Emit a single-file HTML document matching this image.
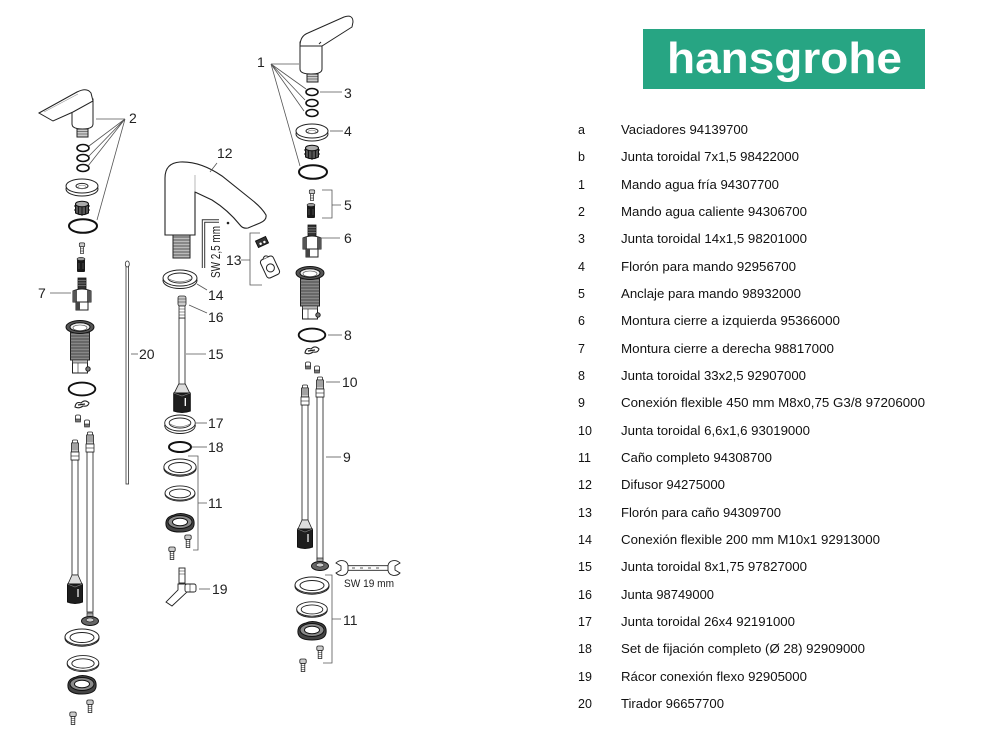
<!DOCTYPE html>
<html><head><meta charset="utf-8"><style>
html,body{margin:0;padding:0;background:#fff;}
svg{display:block;}
text{font-family:"Liberation Sans",Arial,sans-serif;}
.t{font-size:12.5px;fill:#111;white-space:pre;}
.l{font-size:14px;fill:#222;}
.ld{stroke:#555;stroke-width:.8;fill:none;}
</style></head><body>
<svg width="985" height="743" viewBox="0 0 985 743" xmlns="http://www.w3.org/2000/svg">
<defs>
<g id="ors"><ellipse rx="6" ry="3.5" fill="none" stroke="#111" stroke-width="1.6"/></g>
<g id="orl"><ellipse rx="14" ry="6.8" fill="none" stroke="#111" stroke-width="2"/></g>
<g id="ros"><ellipse cy="3" rx="16" ry="7" fill="#fff" stroke="#222"/><ellipse rx="16" ry="7" fill="#fff" stroke="#222"/><ellipse rx="6" ry="2.6" fill="#fff" stroke="#222"/><ellipse cy="0.8" rx="4" ry="1.6" fill="none" stroke="#888" stroke-width=".6"/></g>
<g id="gear"><path d="M-6.5,-4 L-6.5,5 Q0,8.5 6.5,5 L6.5,-4 Z" fill="#555" stroke="#111"/><ellipse cy="-4" rx="6.5" ry="2.8" fill="#aaa" stroke="#111"/><path d="M-3.5,-1.5 v8 M0,-1 v9 M3.5,-1.5 v8" stroke="#111" stroke-width=".9"/><path d="M-8,-2 h2 M6,-2 h2 M-8,2 h2 M6,2 h2" stroke="#111"/></g>
<g id="scr"><rect x="-3.2" y="-6" width="6.4" height="4.5" rx="1.5" fill="#ccc" stroke="#222" stroke-width=".8"/><rect x="-1.8" y="-1.5" width="3.6" height="8" fill="#fff" stroke="#222" stroke-width=".8"/><path d="M-1.8,0.5h3.6M-1.8,2.5h3.6M-1.8,4.5h3.6" stroke="#222" stroke-width=".5"/></g>
<g id="anc"><rect x="-4" y="-6" width="8" height="13" rx="1" fill="#1a1a1a"/><ellipse cy="-6" rx="4" ry="1.6" fill="#999" stroke="#111" stroke-width=".6"/><path d="M-2,-2 v6 M2,-2 v6" stroke="#666" stroke-width=".6"/></g>
<g id="cart">
<rect x="-4" y="0" width="8" height="11" fill="#333" stroke="#111" stroke-width=".8"/>
<path d="M-4,2.5h8M-4,5h8M-4,7.5h8" stroke="#aaa" stroke-width=".5"/>
<path d="M-9,13 Q0,9 9,13 L9,24 L-9,24 Z" fill="#fff" stroke="#222"/>
<path d="M-9,13 L-9,24 L-5,24 L-5,12 Z" fill="#555"/>
<path d="M5,12 L9,13 L9,24 L5,24 Z" fill="#555"/>
<rect x="-6" y="24" width="12" height="8" fill="#fff" stroke="#222"/>
<rect x="-6" y="24" width="4" height="8" fill="#444"/>
</g>
<g id="slv">
<rect x="-9.5" y="3" width="19" height="30" fill="#888" stroke="#222"/>
<path d="M-9.5,6h19M-9.5,9h19M-9.5,12h19M-9.5,15h19M-9.5,18h19M-9.5,21h19M-9.5,24h19M-9.5,27h19M-9.5,30h19" stroke="#333" stroke-width=".7"/>
<ellipse rx="14" ry="6.5" fill="#555" stroke="#111"/>
<ellipse rx="10" ry="4.2" fill="#eee" stroke="#111"/>
<ellipse cy="0.8" rx="7" ry="2.8" fill="#fff" stroke="#444" stroke-width=".6"/>
<rect x="-7.5" y="33" width="15" height="13" fill="#fff" stroke="#222"/>
<rect x="-7.5" y="33" width="15" height="3" fill="#bbb" stroke="#222" stroke-width=".6"/>
<path d="M-2,36 v10" stroke="#222" stroke-width=".6"/>
<circle cx="8" cy="42" r="2.2" fill="#777" stroke="#222"/>
</g>
<g id="clip"><path d="M-7,3 Q-6,-3 -1,-1 Q3,-5 7,-1 Q6,3 1,2 Q-3,5 -7,3 Z" fill="#fff" stroke="#222" stroke-width="1.1"/><path d="M-4,1 L3,0" stroke="#222" stroke-width="1.2"/></g>
<g id="tn"><rect x="-2.5" y="-3" width="5" height="6" rx="1.5" fill="#fff" stroke="#222" stroke-width=".8"/><rect x="-2.5" y="1" width="5" height="3" fill="#777" stroke="#222" stroke-width=".6"/></g>
<g id="hfit"><rect x="-2.5" y="0" width="5" height="3" rx="1" fill="#fff" stroke="#222" stroke-width=".8"/><rect x="-3.5" y="3" width="7" height="9" fill="#ccc" stroke="#222" stroke-width=".8"/><path d="M-3.5,5h7M-3.5,7h7M-3.5,9h7" stroke="#222" stroke-width=".6"/><rect x="-4" y="12" width="8" height="8" fill="#fff" stroke="#222" stroke-width=".8"/><path d="M-4,16h8" stroke="#222" stroke-width=".6"/></g>
<g id="hbot"><path d="M-3,0 L3,0 L7,9 L-7,9 Z" fill="#ddd" stroke="#222" stroke-width=".8"/><path d="M-7.5,9 L7.5,9 L7.5,27 Q0,30 -7.5,27 Z" fill="#1e1e1e" stroke="#111"/><path d="M3,14 v8" stroke="#fff" stroke-width="1.2"/><path d="M-7.5,9 L0,12 L7.5,9" stroke="#888" stroke-width=".6" fill="none"/></g>
<g id="hfl"><rect x="-3" y="-8" width="6" height="6" fill="#aaa" stroke="#222" stroke-width=".7"/><ellipse rx="8.5" ry="4.5" fill="#666" stroke="#111"/><ellipse cy="-1" rx="4" ry="2" fill="#ccc" stroke="#111" stroke-width=".6"/></g>
<g id="wt"><ellipse cy="1.2" rx="17" ry="8" fill="#fff" stroke="#222"/><ellipse rx="17" ry="8" fill="#fff" stroke="#222"/><ellipse cy="0.5" rx="12" ry="5" fill="#fff" stroke="#222"/></g>
<g id="wk"><ellipse cy="2.5" rx="17" ry="8" fill="#fff" stroke="#222"/><ellipse rx="17" ry="8" fill="#fff" stroke="#222"/><ellipse rx="12" ry="5" fill="#fff" stroke="#222"/><path d="M-12,0.5 Q0,7 12,0.5" fill="none" stroke="#666" stroke-width=".6"/></g>
<g id="plate"><path d="M-14,2 Q-15,-6 -6,-8 Q0,-11 8,-8 Q15,-6 14,2 Q13,9 0,9 Q-13,9 -14,2 Z" fill="#444" stroke="#111"/><ellipse cy="-1" rx="12" ry="6.5" fill="#8a8a8a" stroke="#111"/><ellipse cy="-1" rx="7.5" ry="3.8" fill="#fff" stroke="#111"/></g>
</defs>

<rect width="985" height="743" fill="#fff"/>

<!-- LOGO -->
<rect x="643" y="29" width="282" height="60" fill="#27a583"/>
<text x="667" y="73" font-size="44" font-weight="bold" fill="#fff" textLength="235" lengthAdjust="spacingAndGlyphs">hansgrohe</text>

<!-- PARTS LIST -->
<g class="t">
<text x="578" y="134">a</text><text x="621" y="134" textLength="127" lengthAdjust="spacingAndGlyphs">Vaciadores  94139700</text>
<text x="578" y="161">b</text><text x="621" y="161" textLength="178" lengthAdjust="spacingAndGlyphs">Junta toroidal 7x1,5  98422000</text>
<text x="578" y="189">1</text><text x="621" y="189" textLength="158" lengthAdjust="spacingAndGlyphs">Mando agua fría  94307700</text>
<text x="578" y="216">2</text><text x="621" y="216" textLength="186" lengthAdjust="spacingAndGlyphs">Mando agua caliente  94306700</text>
<text x="578" y="243">3</text><text x="621" y="243" textLength="186" lengthAdjust="spacingAndGlyphs">Junta toroidal 14x1,5  98201000</text>
<text x="578" y="271">4</text><text x="621" y="271" textLength="175" lengthAdjust="spacingAndGlyphs">Florón para mando  92956700</text>
<text x="578" y="298">5</text><text x="621" y="298" textLength="180" lengthAdjust="spacingAndGlyphs">Anclaje para mando  98932000</text>
<text x="578" y="325">6</text><text x="621" y="325" textLength="219" lengthAdjust="spacingAndGlyphs">Montura cierre a izquierda  95366000</text>
<text x="578" y="353">7</text><text x="621" y="353" textLength="213" lengthAdjust="spacingAndGlyphs">Montura cierre a derecha  98817000</text>
<text x="578" y="380">8</text><text x="621" y="380" textLength="185" lengthAdjust="spacingAndGlyphs">Junta toroidal 33x2,5  92907000</text>
<text x="578" y="407">9</text><text x="621" y="407" textLength="304" lengthAdjust="spacingAndGlyphs">Conexión flexible 450 mm M8x0,75 G3/8  97206000</text>
<text x="578" y="435">10</text><text x="621" y="435" textLength="189" lengthAdjust="spacingAndGlyphs">Junta toroidal 6,6x1,6  93019000</text>
<text x="578" y="462">11</text><text x="621" y="462" textLength="151" lengthAdjust="spacingAndGlyphs">Caño completo  94308700</text>
<text x="578" y="489">12</text><text x="621" y="489" textLength="104" lengthAdjust="spacingAndGlyphs">Difusor  94275000</text>
<text x="578" y="517">13</text><text x="621" y="517" textLength="160" lengthAdjust="spacingAndGlyphs">Florón para caño  94309700</text>
<text x="578" y="544">14</text><text x="621" y="544" textLength="259" lengthAdjust="spacingAndGlyphs">Conexión flexible 200 mm M10x1  92913000</text>
<text x="578" y="571">15</text><text x="621" y="571" textLength="186" lengthAdjust="spacingAndGlyphs">Junta toroidal 8x1,75  97827000</text>
<text x="578" y="599">16</text><text x="621" y="599" textLength="93" lengthAdjust="spacingAndGlyphs">Junta  98749000</text>
<text x="578" y="626">17</text><text x="621" y="626" textLength="174" lengthAdjust="spacingAndGlyphs">Junta toroidal 26x4  92191000</text>
<text x="578" y="653">18</text><text x="621" y="653" textLength="244" lengthAdjust="spacingAndGlyphs">Set de fijación completo (Ø 28)  92909000</text>
<text x="578" y="681">19</text><text x="621" y="681" textLength="186" lengthAdjust="spacingAndGlyphs">Rácor conexión flexo  92905000</text>
<text x="578" y="708">20</text><text x="621" y="708" textLength="103" lengthAdjust="spacingAndGlyphs">Tirador  96657700</text>
</g>

<!-- ================= LEFT ASSEMBLY ================= -->
<path d="M72,100 L72,124 Q72,129 82.5,129 Q93,129 93,124 L93,99 Z" fill="#fff" stroke="#222"/>
<path d="M39,113 L77,92 Q87,87 91,93 L93,101 L73,112 L53,121 Z" fill="#fff" stroke="#222"/>
<path d="M44,112 L78,94" stroke="#999" stroke-width=".6"/>
<rect x="77" y="129" width="11" height="8" fill="#ccc" stroke="#222"/>
<path d="M77,131.5h11M77,134h11" stroke="#222" stroke-width=".6"/>
<use href="#ors" x="83" y="148"/>
<use href="#ors" x="83" y="158"/>
<use href="#ors" x="83" y="168"/>
<use href="#ros" x="82" y="186"/>
<use href="#gear" x="82" y="208"/>
<use href="#orl" x="83" y="226"/>
<use href="#scr" transform="translate(82,248) scale(.85)"/>
<use href="#anc" x="81" y="265"/>
<use href="#cart" x="82" y="278"/>
<use href="#slv" x="80" y="327"/>
<use href="#orl" transform="translate(82,389) scale(.95)"/>
<use href="#clip" x="82" y="404"/>
<use href="#tn" x="78" y="418"/>
<use href="#tn" x="87" y="423"/>
<rect x="72" y="460" width="6" height="115" fill="#fff" stroke="#333" stroke-width=".9"/>
<rect x="87" y="452" width="6" height="160" fill="#fff" stroke="#333" stroke-width=".9"/>
<use href="#hfit" x="75" y="440"/>
<use href="#hfit" x="90" y="432"/>
<use href="#hbot" x="75" y="575"/>
<use href="#hfl" x="90" y="621"/>
<use href="#wt" x="82" y="637"/>
<use href="#wt" transform="translate(83,663) scale(.93)"/>
<use href="#plate" x="82" y="685"/>
<use href="#scr" x="90" y="706"/>
<use href="#scr" x="73" y="718"/>
<!-- labels left -->
<g class="ld">
<path d="M125,119 L96,119 M125,119 L89,146 M125,119 L89,156 M125,119 L88,166 M125,119 L97,220"/>
<path d="M50,293 L71,293"/>
<path d="M131,354 L138,354"/>
</g>
<text class="l" x="129" y="123">2</text>
<text class="l" x="38" y="298">7</text>
<text class="l" x="139" y="359">20</text>
<!-- tirador -->
<rect x="126" y="266" width="2.6" height="218" fill="#fff" stroke="#333" stroke-width=".8"/>
<ellipse cx="127.3" cy="264" rx="2" ry="3" fill="#fff" stroke="#333" stroke-width=".8"/>

<!-- ================= MIDDLE ASSEMBLY ================= -->
<rect x="173" y="234" width="17" height="24" fill="#bbb" stroke="#222"/>
<path d="M173,237h17M173,240h17M173,243h17M173,246h17M173,249h17M173,252h17M173,255h17" stroke="#333" stroke-width=".8"/>
<path d="M165,235 L165,178 Q165,163 180,162 Q200,161 222,176 L252,200 Q262,208 266,215 Q267,220 260,223 L248,228 Q243,229 240,225 Q228,210 212,200 L195,192 L195,235 Z" fill="#fff" stroke="#222" stroke-width="1.1"/>
<path d="M195,192 L195,175" stroke="#888" stroke-width=".6"/>
<!-- hex key -->
<path d="M203.5,268 L203.5,221 L219,221" fill="none" stroke="#333" stroke-width="3.4"/>
<path d="M203.5,268 L203.5,221 L219,221" fill="none" stroke="#fff" stroke-width="1.4"/>
<text transform="translate(220,252) rotate(-90)" text-anchor="middle" font-size="12.5" fill="#222" textLength="52" lengthAdjust="spacingAndGlyphs">SW 2,5 mm</text>
<circle cx="228" cy="223" r="1.3" fill="#222"/>
<!-- 13 -->
<path class="ld" d="M260,233 L250,233 L250,285 L262,285 M241,260 L250,260"/>
<text class="l" x="226" y="265">13</text>
<g transform="translate(262,242) rotate(-25)"><rect x="-5.5" y="-3.5" width="11" height="7" fill="#333" stroke="#111"/><circle cx="-2" cy="1" r="1.2" fill="#fff"/><circle cx="2.2" cy="1" r="1.2" fill="#fff"/></g>
<g transform="translate(270,267) rotate(-25)"><rect x="-7" y="-10" width="14" height="20" rx="3" fill="#fff" stroke="#222"/><circle cx="0" cy="1" r="4" fill="none" stroke="#222"/><path d="M-3,-10 Q0,-14 3,-10" fill="#fff" stroke="#222"/></g>
<!-- 14 washer -->
<use href="#wk" x="180" y="278"/>
<!-- 16 fitting & 15 hose -->
<rect x="179" y="318" width="6" height="68" fill="#fff" stroke="#333" stroke-width=".9"/>
<rect x="178" y="296" width="8" height="10" rx="2" fill="#ccc" stroke="#222" stroke-width=".8"/>
<path d="M178,299h8M178,302h8" stroke="#222" stroke-width=".6"/>
<rect x="179" y="306" width="6" height="12" fill="#fff" stroke="#222" stroke-width=".8"/>
<path d="M179,309h6M179,312h6M179,315h6" stroke="#222" stroke-width=".5"/>
<use href="#hbot" transform="translate(182,384) scale(1.1,1)"/>
<use href="#wk" transform="translate(180,423) scale(.9,1)"/>
<ellipse cx="180" cy="447" rx="11" ry="5" fill="none" stroke="#111" stroke-width="2"/>
<use href="#wt" transform="translate(180,467) scale(.95,1)"/>
<use href="#wt" transform="translate(180,493) scale(.88)"/>
<use href="#plate" x="180" y="523"/>
<use href="#scr" x="188" y="541"/>
<use href="#scr" x="172" y="553"/>
<!-- 19 racor -->
<rect x="179" y="568" width="6" height="15" fill="#fff" stroke="#222" stroke-width=".9"/>
<path d="M179,571h6M179,574h6" stroke="#222" stroke-width=".5"/>
<path d="M178,584 L186,584 L187,592 L172,606 L166,602 L178,590 Z" fill="#fff" stroke="#222" stroke-width=".9"/>
<rect x="185" y="584" width="11" height="8" rx="2" fill="#fff" stroke="#222" stroke-width=".9"/>
<path d="M190,584 v8" stroke="#222" stroke-width=".6"/>
<!-- middle labels -->
<g class="ld">
<path d="M217,163 L210,172"/>
<path d="M197,284 L207,290"/>
<path d="M189,305 L207,313"/>
<path d="M186,354 L206,354"/>
<path d="M196,423 L207,423"/>
<path d="M192,447 L207,447"/>
<path d="M188,456 L198,456 L198,550 L193,550 M198,503 L207,503"/>
<path d="M199,589 L210,589"/>
</g>
<text class="l" x="217" y="158">12</text>
<text class="l" x="208" y="300">14</text>
<text class="l" x="208" y="322">16</text>
<text class="l" x="208" y="359">15</text>
<text class="l" x="208" y="428">17</text>
<text class="l" x="208" y="452">18</text>
<text class="l" x="208" y="508">11</text>
<text class="l" x="212" y="594">19</text>

<!-- ================= RIGHT ASSEMBLY ================= -->
<path d="M300,42 L300,69 Q300,74 311,74 Q322,74 322,69 L322,44 Z" fill="#fff" stroke="#222"/>
<path d="M300,46 Q300,36 308,33 L344,17 Q353,14 353,22 L352,27 L322,46 Z" fill="#fff" stroke="#222"/>
<path d="M319,44 l2,-2" stroke="#222"/>
<rect x="307" y="74" width="11" height="8" fill="#ccc" stroke="#222"/>
<path d="M307,76.5h11M307,79h11" stroke="#222" stroke-width=".6"/>
<use href="#ors" x="312" y="92"/>
<use href="#ors" x="312" y="103"/>
<use href="#ors" x="312" y="113"/>
<use href="#ros" x="312" y="131"/>
<use href="#gear" x="312" y="152"/>
<use href="#orl" x="313" y="172"/>
<use href="#scr" transform="translate(312,195) scale(.85)"/>
<use href="#anc" x="311" y="211"/>
<use href="#cart" x="312" y="225"/>
<use href="#slv" x="310" y="273"/>
<use href="#orl" transform="translate(312,335) scale(.95)"/>
<use href="#clip" x="312" y="350"/>
<use href="#tn" x="308" y="365"/>
<use href="#tn" x="317" y="369"/>
<rect x="302" y="405" width="6" height="115" fill="#fff" stroke="#333" stroke-width=".9"/>
<rect x="317" y="397" width="6" height="163" fill="#fff" stroke="#333" stroke-width=".9"/>
<use href="#hfit" x="305" y="385"/>
<use href="#hfit" x="320" y="377"/>
<use href="#hbot" x="305" y="520"/>
<use href="#hfl" x="320" y="566"/>
<use href="#wt" x="312" y="585"/>
<use href="#wt" transform="translate(312,609) scale(.9)"/>
<use href="#plate" x="312" y="631"/>
<use href="#scr" x="320" y="652"/>
<use href="#scr" x="303" y="665"/>
<!-- wrench -->
<g transform="translate(368,568)" stroke="#222" fill="#fff" stroke-width=".9">
<rect x="-22" y="-2.3" width="44" height="4.6" rx="1"/>
<path d="M-16,0 h3 M-8,0 h3 M0,0 h3 M8,0 h3" stroke-width=".8"/>
<path d="M-20,-2.5 C-21,-8 -28,-9 -32,-5 L-27,-2 L-27,2 L-32,5 C-28,9 -21,8 -20,2.5 Z"/>
<path d="M20,-2.5 C21,-8 28,-9 32,-5 L27,-2 L27,2 L32,5 C28,9 21,8 20,2.5 Z"/>
</g>
<text x="344" y="587" font-size="11" fill="#222" textLength="50" lengthAdjust="spacingAndGlyphs">SW 19 mm</text>
<!-- right labels -->
<g class="ld">
<path d="M271,64 L299,64 M271,64 L306,89 M271,64 L305,100 M271,64 L304,111 M271,64 L300,166"/>
<path d="M320,92 L342,92"/>
<path d="M330,131 L343,131"/>
<path d="M322,190 L332,190 L332,218 L322,218 M332,205 L341,205"/>
<path d="M321,238 L340,238"/>
<path d="M328,335 L342,335"/>
<path d="M326,382 L340,382"/>
<path d="M326,457 L341,457"/>
<path d="M325,575 L332,575 L332,663 L323,663 M332,619 L341,619"/>
</g>
<text class="l" x="257" y="67">1</text>
<text class="l" x="344" y="98">3</text>
<text class="l" x="344" y="136">4</text>
<text class="l" x="344" y="210">5</text>
<text class="l" x="344" y="243">6</text>
<text class="l" x="344" y="340">8</text>
<text class="l" x="342" y="387">10</text>
<text class="l" x="343" y="462">9</text>
<text class="l" x="343" y="625">11</text>
</svg>
</body></html>
